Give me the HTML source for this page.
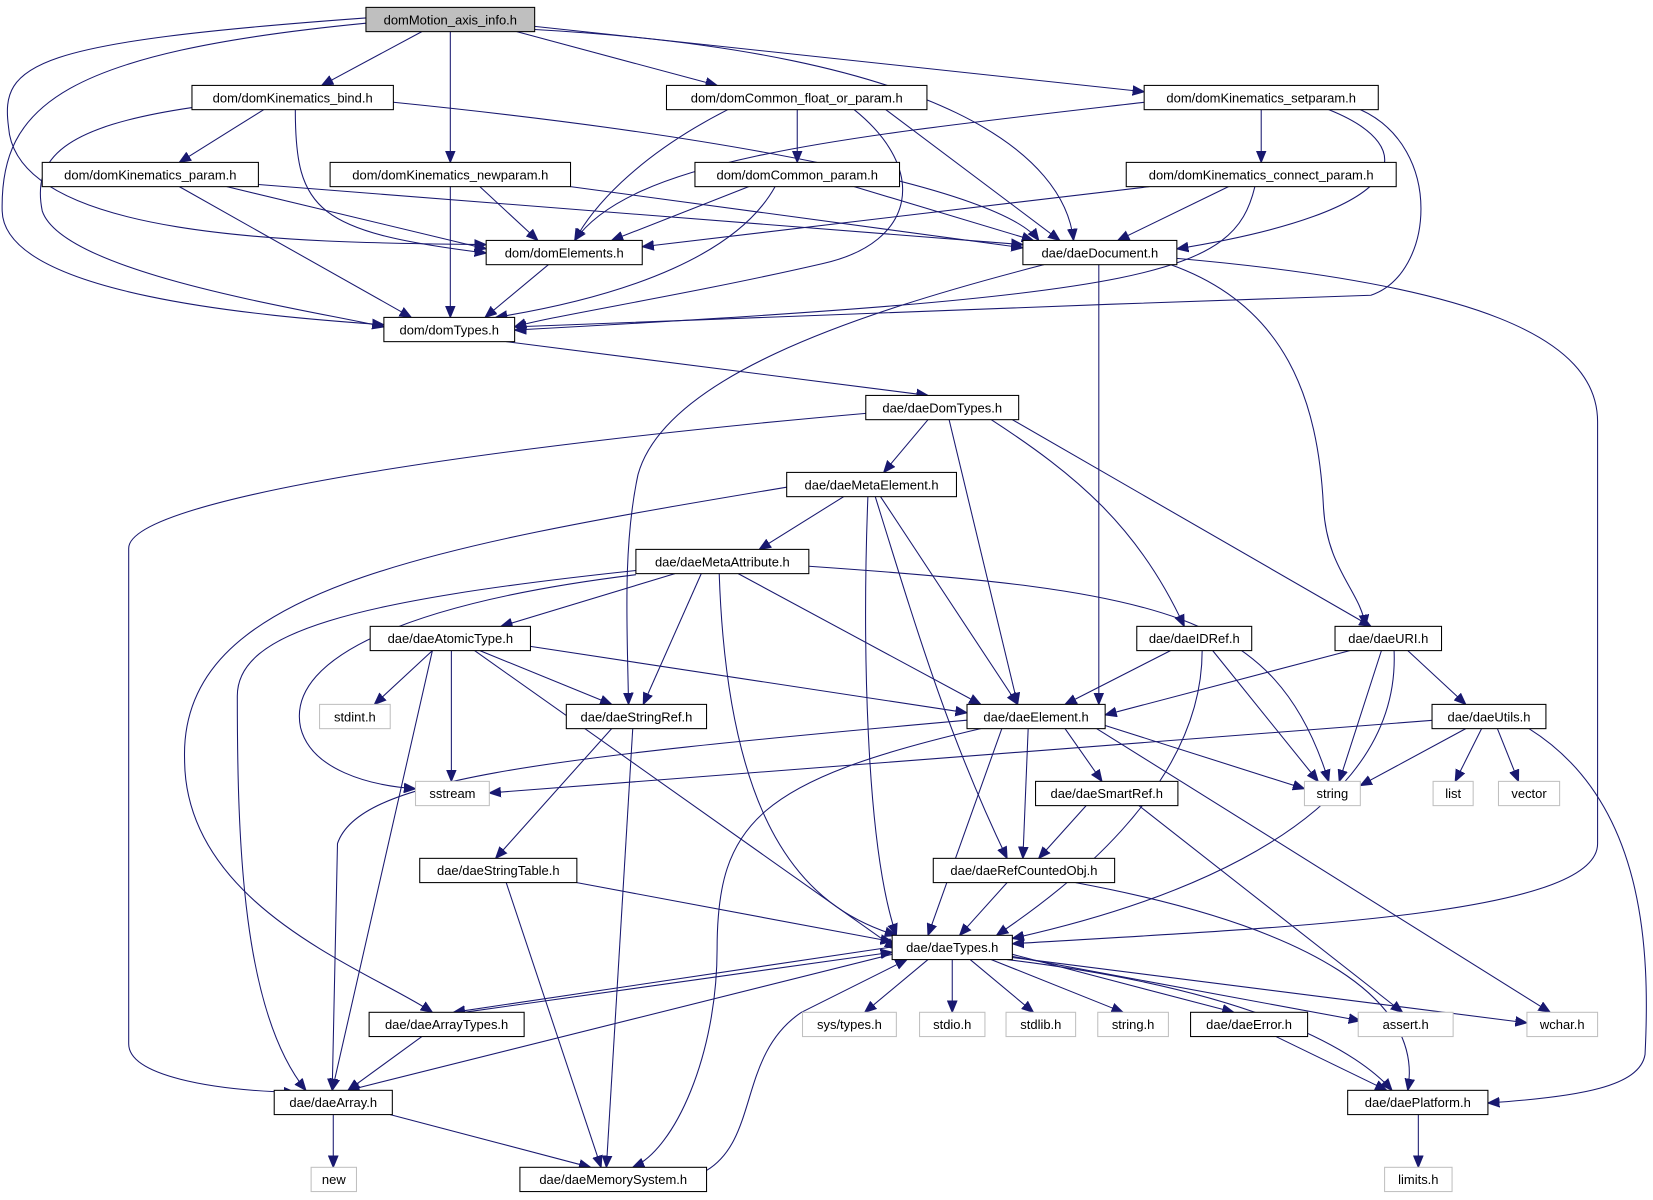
<!DOCTYPE html>
<html><head><meta charset="utf-8"><style>
html,body{margin:0;padding:0;background:#fff;}
svg{display:block}
text{font-family:"Liberation Sans","DejaVu Sans",sans-serif;font-size:12.3px;fill:#000;text-anchor:middle}
.n{fill:#fff;stroke:#000;stroke-width:1}
.g{fill:#fff;stroke:#c0c0c0;stroke-width:1}
.e path{fill:none;stroke:#191970;stroke-width:1;marker-end:url(#a)}
</style></head><body>
<svg width="1653" height="1200" viewBox="0 0 1567.5 1138" xmlns="http://www.w3.org/2000/svg">
<defs><marker id="a" markerUnits="userSpaceOnUse" markerWidth="12" markerHeight="10" refX="11" refY="5" orient="auto"><path d="M0,0.5 L11,5 L0,9.5 z" fill="#191970" stroke="#191970"/></marker></defs>
<g class="e">
<path d="M400,30 L305,81"/>
<path d="M427,30 L427,154"/>
<path d="M490,30 L680,81"/>
<path d="M507,25 L1085,87"/>
<path d="M507,28 C900,50 1010,150 1018,228"/>
<path d="M347,17 C30,40 0,60 8,120 C15,230 300,230 461,232"/>
<path d="M347,22 C60,50 0,100 2,200 C4,280 250,300 364,308"/>
<path d="M250,104 L170,154"/>
<path d="M280,104 C280,200 300,220 461,240"/>
<path d="M373,97 C700,130 950,180 985,228"/>
<path d="M182,102 C60,120 30,150 40,200 C60,260 300,295 364,310"/>
<path d="M690,104 C600,150 560,200 545,228"/>
<path d="M756,104 L756,154"/>
<path d="M840,104 L1005,228"/>
<path d="M810,104 C880,160 870,230 780,250 C650,280 520,300 488,310"/>
<path d="M1196,104 L1196,154"/>
<path d="M1085,97 C800,130 600,150 545,228"/>
<path d="M1260,104 C1350,140 1340,200 1116,236"/>
<path d="M1290,104 C1370,140 1360,260 1300,280 C1000,290 600,305 488,310"/>
<path d="M215,177 L461,236"/>
<path d="M245,175 L970,232"/>
<path d="M170,177 L390,301"/>
<path d="M427,177 L427,301"/>
<path d="M455,177 L510,228"/>
<path d="M541,177 L970,235"/>
<path d="M710,177 L580,228"/>
<path d="M735,177 C700,240 600,280 470,301"/>
<path d="M810,177 L980,228"/>
<path d="M1090,177 L609,234"/>
<path d="M1165,177 L1060,228"/>
<path d="M1190,177 C1170,260 1100,280 488,313"/>
<path d="M520,251 L460,301"/>
<path d="M1042,251 L1042,668"/>
<path d="M1110,251 C1220,290 1250,380 1255,480 C1258,540 1290,560 1295,594"/>
<path d="M1116,245 C1400,270 1515,320 1515,400 L1515,800 C1515,870 1200,880 960,895"/>
<path d="M990,251 C800,300 630,360 605,450 C590,520 595,600 596,668"/>
<path d="M480,324 L880,375"/>
<path d="M880,398 L838,448"/>
<path d="M900,398 L965,668"/>
<path d="M940,398 C1020,450 1080,500 1123,594"/>
<path d="M960,398 L1300,594"/>
<path d="M821,392 C500,420 122,470 122,520 L122,990 C122,1020 200,1034 280,1036"/>
<path d="M800,471 L720,521"/>
<path d="M835,471 L965,668"/>
<path d="M830,471 C870,600 900,700 955,814"/>
<path d="M823,471 C818,600 820,800 850,887"/>
<path d="M746,462 C400,520 170,560 175,720 C175,860 350,920 410,960"/>
<path d="M640,544 L475,594"/>
<path d="M665,544 L610,668"/>
<path d="M700,544 L930,668"/>
<path d="M682,544 C690,780 760,860 850,887"/>
<path d="M767,537 C1100,560 1210,580 1260,741"/>
<path d="M603,545 C400,570 270,620 285,690 C295,730 350,745 394,748"/>
<path d="M603,541 C330,570 225,600 225,660 C225,800 230,960 290,1034"/>
<path d="M410,617 L355,668"/>
<path d="M428,617 L428,741"/>
<path d="M455,617 L580,668"/>
<path d="M503,613 L917,676"/>
<path d="M410,617 L315,1034"/>
<path d="M450,617 L850,900"/>
<path d="M1110,617 L1010,668"/>
<path d="M1150,617 L1250,741"/>
<path d="M1140,617 C1140,750 1000,850 945,887"/>
<path d="M1280,617 L1048,678"/>
<path d="M1310,617 L1270,741"/>
<path d="M1335,617 L1390,668"/>
<path d="M1322,617 C1330,800 1050,870 960,890"/>
<path d="M580,691 L470,814"/>
<path d="M600,691 L575,1107"/>
<path d="M1010,691 L1045,741"/>
<path d="M975,691 L970,814"/>
<path d="M950,691 L880,887"/>
<path d="M1048,688 L1237,748"/>
<path d="M1040,691 L1470,960"/>
<path d="M917,683 C500,720 340,740 320,800 L315,1034"/>
<path d="M930,691 C720,740 680,780 680,900 C680,1000 640,1090 600,1107"/>
<path d="M1360,683 L464,752"/>
<path d="M1390,691 L1290,745"/>
<path d="M1405,691 L1380,741"/>
<path d="M1420,691 L1440,741"/>
<path d="M1450,691 C1560,760 1565,900 1560,1000 C1555,1030 1500,1040 1411,1046"/>
<path d="M1030,764 L985,814"/>
<path d="M1080,764 L1330,960"/>
<path d="M547,837 L846,893"/>
<path d="M480,837 L570,1107"/>
<path d="M955,837 L910,887"/>
<path d="M1020,837 C1250,880 1350,950 1335,1034"/>
<path d="M846,898 L430,960"/>
<path d="M440,960 L846,903"/>
<path d="M880,910 L820,960"/>
<path d="M903,910 L903,960"/>
<path d="M920,910 L980,960"/>
<path d="M940,910 L1065,960"/>
<path d="M960,905 L1170,960"/>
<path d="M960,907 L1290,968"/>
<path d="M960,908 L1448,970"/>
<path d="M955,910 C1200,940 1290,1000 1320,1034"/>
<path d="M846,905 L330,1034"/>
<path d="M400,983 L330,1034"/>
<path d="M670,1110 C720,1080 700,1000 760,960 L860,910"/>
<path d="M316,1057 L316,1107"/>
<path d="M370,1057 L560,1107"/>
<path d="M1210,983 L1315,1034"/>
<path d="M1345,1057 L1345,1107"/>
</g>
<g>
<rect x="347" y="7" width="160" height="23" fill="#bfbfbf" stroke="#000"/><text x="427" y="23">domMotion_axis_info.h</text>
<rect class="n" x="182" y="81" width="191" height="23"/><text x="277.5" y="97">dom/domKinematics_bind.h</text>
<rect class="n" x="632" y="81" width="247" height="23"/><text x="755.5" y="97">dom/domCommon_float_or_param.h</text>
<rect class="n" x="1085" y="81" width="222" height="23"/><text x="1196" y="97">dom/domKinematics_setparam.h</text>
<rect class="n" x="40" y="154" width="205" height="23"/><text x="142.5" y="170">dom/domKinematics_param.h</text>
<rect class="n" x="313" y="154" width="228" height="23"/><text x="427" y="170">dom/domKinematics_newparam.h</text>
<rect class="n" x="659" y="154" width="194" height="23"/><text x="756" y="170">dom/domCommon_param.h</text>
<rect class="n" x="1068" y="154" width="256" height="23"/><text x="1196" y="170">dom/domKinematics_connect_param.h</text>
<rect class="n" x="461" y="228" width="148" height="23"/><text x="535" y="244">dom/domElements.h</text>
<rect class="n" x="970" y="228" width="146" height="23"/><text x="1043" y="244">dae/daeDocument.h</text>
<rect class="n" x="364" y="301" width="124" height="23"/><text x="426" y="317">dom/domTypes.h</text>
<rect class="n" x="821" y="375" width="145" height="23"/><text x="893.5" y="391">dae/daeDomTypes.h</text>
<rect class="n" x="746" y="448" width="161" height="23"/><text x="826.5" y="464">dae/daeMetaElement.h</text>
<rect class="n" x="603" y="521" width="164" height="23"/><text x="685" y="537">dae/daeMetaAttribute.h</text>
<rect class="n" x="351" y="594" width="152" height="23"/><text x="427" y="610">dae/daeAtomicType.h</text>
<rect class="n" x="1078" y="594" width="109" height="23"/><text x="1132.5" y="610">dae/daeIDRef.h</text>
<rect class="n" x="1266" y="594" width="101" height="23"/><text x="1316.5" y="610">dae/daeURI.h</text>
<rect class="g" x="303" y="668" width="67" height="23"/><text x="336.5" y="684">stdint.h</text>
<rect class="n" x="537" y="668" width="133" height="23"/><text x="603.5" y="684">dae/daeStringRef.h</text>
<rect class="n" x="917" y="668" width="131" height="23"/><text x="982.5" y="684">dae/daeElement.h</text>
<rect class="n" x="1358" y="668" width="108" height="23"/><text x="1412" y="684">dae/daeUtils.h</text>
<rect class="g" x="394" y="741" width="70" height="23"/><text x="429" y="757">sstream</text>
<rect class="g" x="1237" y="741" width="53" height="23"/><text x="1263.5" y="757">string</text>
<rect class="g" x="1359" y="741" width="38" height="23"/><text x="1378" y="757">list</text>
<rect class="g" x="1421" y="741" width="58" height="23"/><text x="1450" y="757">vector</text>
<rect class="n" x="982" y="741" width="135" height="23"/><text x="1049.5" y="757">dae/daeSmartRef.h</text>
<rect class="n" x="398" y="814" width="149" height="23"/><text x="472.5" y="830">dae/daeStringTable.h</text>
<rect class="n" x="885" y="814" width="172" height="23"/><text x="971" y="830">dae/daeRefCountedObj.h</text>
<rect class="n" x="846" y="887" width="114" height="23"/><text x="903" y="903">dae/daeTypes.h</text>
<rect class="n" x="350" y="960" width="147" height="23"/><text x="423.5" y="976">dae/daeArrayTypes.h</text>
<rect class="g" x="761" y="960" width="89" height="23"/><text x="805.5" y="976">sys/types.h</text>
<rect class="g" x="872" y="960" width="62" height="23"/><text x="903" y="976">stdio.h</text>
<rect class="g" x="954" y="960" width="66" height="23"/><text x="987" y="976">stdlib.h</text>
<rect class="g" x="1041" y="960" width="67" height="23"/><text x="1074.5" y="976">string.h</text>
<rect class="n" x="1129" y="960" width="111" height="23"/><text x="1184.5" y="976">dae/daeError.h</text>
<rect class="g" x="1288" y="960" width="90" height="23"/><text x="1333" y="976">assert.h</text>
<rect class="g" x="1448" y="960" width="67" height="23"/><text x="1481.5" y="976">wchar.h</text>
<rect class="n" x="260" y="1034" width="112" height="23"/><text x="316" y="1050">dae/daeArray.h</text>
<rect class="n" x="1278" y="1034" width="133" height="23"/><text x="1344.5" y="1050">dae/daePlatform.h</text>
<rect class="g" x="295" y="1107" width="43" height="23"/><text x="316.5" y="1123">new</text>
<rect class="n" x="493" y="1107" width="177" height="23"/><text x="581.5" y="1123">dae/daeMemorySystem.h</text>
<rect class="g" x="1313" y="1107" width="64" height="23"/><text x="1345" y="1123">limits.h</text>
</g>
</svg>
</body></html>
